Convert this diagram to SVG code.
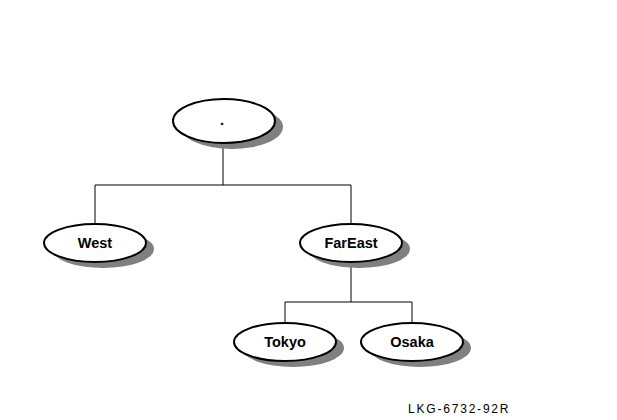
<svg xmlns="http://www.w3.org/2000/svg" width="617" height="420" viewBox="0 0 617 420">
<style>
.sh{fill:#808080;stroke:none}
.el{fill:#fff;stroke:#000;stroke-width:2}
.lb{font-family:"Liberation Sans",Arial,sans-serif;font-size:14.5px;font-weight:bold;text-anchor:middle}
.cn{fill:none;stroke:#000;stroke-width:1}
</style>
<rect width="617" height="420" fill="#fff"/>
<g id="connectors">
<polyline class="cn" points="223,143 223,185"/>
<polyline class="cn" points="95,224 95,185 351,185 351,225"/>
<polyline class="cn" points="351,262 351,302"/>
<polyline class="cn" points="285,323 285,302 412,302 412,323"/>
</g>
<g id="root">
<ellipse class="sh" cx="232" cy="127" rx="51" ry="22"/>
<ellipse class="el" cx="224" cy="121" rx="51" ry="22"/>
<text class="lb" x="222" y="125">.</text>
</g>
<g id="west">
<ellipse class="sh" cx="103" cy="249" rx="51" ry="19"/>
<ellipse class="el" cx="95" cy="243" rx="51" ry="19"/>
<text class="lb" x="95" y="248">West</text>
</g>
<g id="fareast">
<ellipse class="sh" cx="359" cy="249" rx="51" ry="19"/>
<ellipse class="el" cx="351" cy="243" rx="51" ry="19"/>
<text class="lb" x="351" y="248">FarEast</text>
</g>
<g id="tokyo">
<ellipse class="sh" cx="293" cy="348" rx="51" ry="19"/>
<ellipse class="el" cx="285" cy="342" rx="51" ry="19"/>
<text class="lb" x="285" y="347">Tokyo</text>
</g>
<g id="osaka">
<ellipse class="sh" cx="420" cy="348" rx="51" ry="19"/>
<ellipse class="el" cx="412" cy="342" rx="51" ry="19"/>
<text class="lb" x="412" y="347">Osaka</text>
</g>
<text x="408" y="413" style="font-family:'Liberation Sans',Arial,sans-serif;font-size:12px;letter-spacing:1.8px">LKG-6732-92R</text>
</svg>
